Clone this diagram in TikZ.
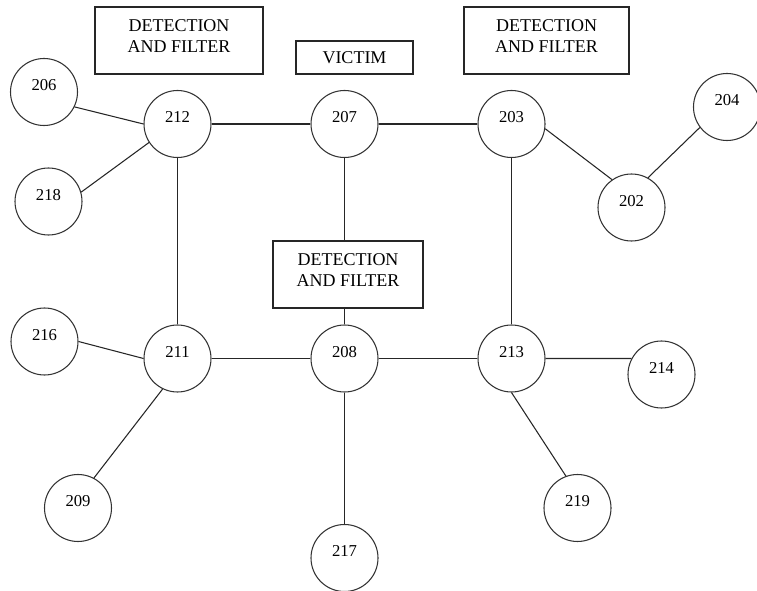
\documentclass[tikz,border=0pt]{standalone}
\usepackage{fontspec}
\setmainfont{Liberation Serif}
\begin{document}
\begin{tikzpicture}[x=0.75pt,y=-0.75pt,
  ln/.style={line width=0.8pt,draw=black!85},
  nd/.style={circle,draw=black!80,line width=0.8pt,minimum size=50.25pt,inner sep=0pt,
    font=\fontsize{12.5}{14}\selectfont,text height=9pt,text depth=11pt},
  bx/.style={rectangle,draw=black!85,line width=0.8pt,inner sep=0pt,align=center,
    font=\fontsize{13.5}{15.75}\selectfont},
  bx2/.style={bx,minimum height=50.25pt,text height=24.75pt,text depth=6pt}]
\useasboundingbox (0,0) rectangle (757,591);
% boxes
\node[bx2,minimum width=126pt] (df1) at (179,40.5) {DETECTION\\AND FILTER};
\node[bx,minimum width=87.75pt,minimum height=24.75pt] (victim) at (354.5,57.5) {VICTIM};
\node[bx2,minimum width=123.75pt] (df2) at (546.5,40.5) {DETECTION\\AND FILTER};
\node[bx2,minimum width=112.5pt] (df3) at (348,274.5) {DETECTION\\AND FILTER};
% circles
\node[nd] (n206) at (44,92) {206};
\node[nd] (n212) at (177.5,124) {212};
\node[nd] (n207) at (344.5,124) {207};
\node[nd] (n203) at (511.5,124) {203};
\node[nd] (n204) at (727,107) {204};
\node[nd] (n202) at (631.5,207.5) {202};
\node[nd] (n218) at (48.5,201.5) {218};
\node[nd] (n216) at (44.5,341.5) {216};
\node[nd] (n211) at (177.5,358.5) {211};
\node[nd] (n208) at (344.5,358.5) {208};
\node[nd] (n213) at (511.5,358.5) {213};
\node[nd] (n214) at (661.5,374.5) {214};
\node[nd] (n209) at (78,508) {209};
\node[nd] (n219) at (577.5,508) {219};
\node[nd] (n217) at (344.5,558) {217};
% connectors
\draw[ln] (n212.east) -- (n207.west);
\draw[ln] (n207.east) -- (n203.west);
\draw[ln] (n212.south) -- (n211.north);
\draw[ln] (n207.south) -- (n207.south |- df3.north);
\draw[ln] (df3.south -| n208.north) -- (n208.north);
\draw[ln] (n203.south) -- (n213.north);
\draw[ln] (n211.east) -- (n208.west);
\draw[ln] (n208.east) -- (n213.west);
\draw[ln] (n213.east) -- (n214.152);
\draw[ln] (n208.south) -- (n217.north);
\draw[ln] (n206.-26) -- (n212.180);
\draw[ln] (n218.16) -- (n212.-147);
\draw[ln] (n216.east) -- (n211.west);
\draw[ln] (n211.-116) -- (n209.62);
\draw[ln] (n203.-8.5) -- (n202.125);
\draw[ln] (n202.61) -- (n204.-143);
\draw[ln] (n213.south) -- (n219.110);
\end{tikzpicture}
\end{document}
